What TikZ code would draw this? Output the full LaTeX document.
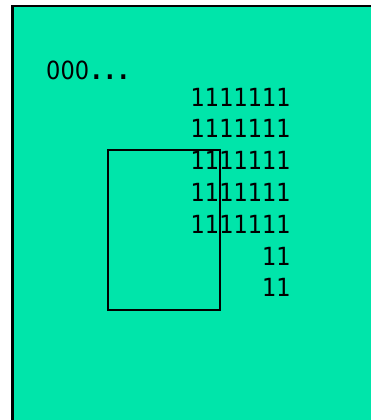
\documentclass[tikz,border=0pt]{standalone}
\usepackage{fontspec}
\setmainfont{DejaVu Sans Condensed}
\definecolor{bgmint}{RGB}{0,229,170}
\begin{document}
\begin{tikzpicture}[x=1pt,y=-1pt,
  digits/.style={inner sep=0pt, anchor=base east, font=\fontsize{25}{30}\selectfont},
  lefttxt/.style={inner sep=0pt, anchor=base west, font=\fontsize{25}{30}\selectfont}]
\useasboundingbox (0,0) rectangle (370,420);
\fill[white] (0,0) rectangle (370,420);
\filldraw[fill=bgmint, draw=black, line width=2.6pt] (12.3,6.1) rectangle (380,430);
\node[lefttxt] (zeros) at (46,79.3) {000\kern3pt\textbf{.}\kern5pt\textbf{.}\kern5pt\textbf{.}};
\foreach \i/\t in {1/1111111,2/1111111,3/1111111,4/1111111,5/1111111,6/11,7/11}{
  \node[digits] (r\i) at (291,{106+(\i-1)*31.8}) {\t};
}
\draw[line width=2pt] (107.5,149.5) rectangle (219.5,309.5);
\end{tikzpicture}
\end{document}
